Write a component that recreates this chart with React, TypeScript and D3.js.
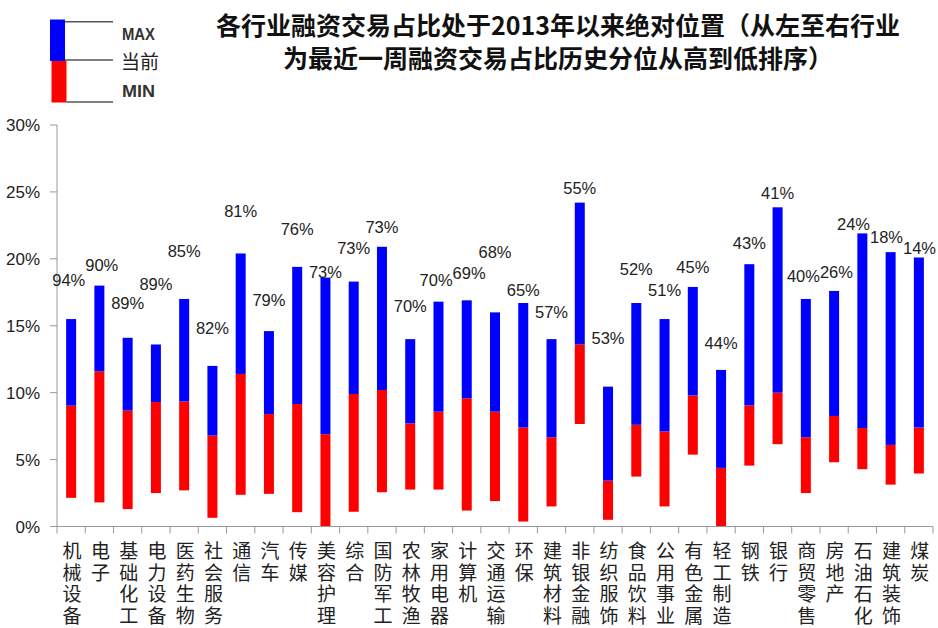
import React from "react";
import * as d3 from "d3";

const categories = ["机械设备","电子","基础化工","电力设备","医药生物","社会服务","通信","汽车","传媒","美容护理","综合","国防军工","农林牧渔","家用电器","计算机","交通运输","环保","建筑材料","非银金融","纺织服饰","食品饮料","公用事业","有色金属","轻工制造","钢铁","银行","商贸零售","房地产","石油石化","建筑装饰","煤炭"];
const maxVals = [15.5,18.0,14.1,13.6,17.0,12.0,20.4,14.6,19.4,18.6,18.3,20.9,14.0,16.8,16.9,16.0,16.7,14.0,24.2,10.45,16.7,15.5,17.9,11.7,19.6,23.85,17.0,17.6,21.9,20.5,20.1];
const curVals = [9.03,11.6,8.66,9.3,9.35,6.8,11.4,8.4,9.15,6.9,9.9,10.2,7.7,8.58,9.58,8.58,7.4,6.67,13.6,3.43,7.6,7.1,9.8,4.38,9.05,10.0,6.67,8.26,7.36,6.1,7.4];
const minVals = [2.14,1.8,1.3,2.5,2.7,0.65,2.37,2.44,1.07,0.0,1.1,2.56,2.76,2.76,1.19,1.9,0.37,1.5,7.66,0.5,3.73,1.5,5.37,0.0,4.55,6.15,2.5,4.8,4.28,3.13,3.96];
const pctLabels = ["94%","90%","89%","89%","85%","82%","81%","79%","76%","73%","73%","73%","70%","70%","69%","68%","65%","57%","55%","53%","52%","51%","45%","44%","43%","41%","40%","26%","24%","18%","14%"];
const labelLevels = [18.4,19.5,16.7,18.1,20.6,14.8,23.6,16.9,22.2,19.0,20.8,22.4,16.5,18.4,18.9,20.5,17.7,16.0,25.3,14.05,19.2,17.7,19.35,13.7,21.2,24.9,18.7,19.0,22.6,21.6,20.8];
const yTicks = [0,5,10,15,20,25,30];
const titleLines = ["各行业融资交易占比处于2013年以来绝对位置（从左至右行业","为最近一周融资交易占比历史分位从高到低排序）"];
const legendItems = ["MAX","当前","MIN"];

const W = 938, H = 628;
const left = 57, right = 933, top = 125, bottom = 526.5;
const BLUE = "#0000FF", RED = "#FF0000";
const latin = "'Liberation Sans', Arial, sans-serif";
const cjk = "'Noto Sans CJK SC', 'Noto Sans', sans-serif";
const mixed = "'Liberation Sans', 'Noto Sans CJK SC', sans-serif";
const labelFont = 16.5;

export default function App() {
  const x = d3.scaleBand<string>().domain(categories).range([left, right]).padding(0);
  const y = d3.scaleLinear().domain([0, 30]).range([bottom, top]);
  const bw = 10;
  const step = x.step();
  const boundaries = d3.range(categories.length + 1).map(i => left + i * step);

  // label placement: centred on bars, nudged apart when neighbours collide, kept inside the frame
  const lw = labelFont * 2.0;
  const n = categories.length;
  const lx = categories.map(c => (x(c) as number) + step / 2);
  const ly = labelLevels.map(v => y(v));
  const close = (i: number) => Math.abs(ly[i] - ly[i + 1]) < labelFont * 0.9;
  for (let iter = 0; iter < 5; iter++) {
    for (let i = 0; i < n - 1; i++) {
      if (close(i)) {
        const ov = lx[i] + lw - lx[i + 1];
        if (ov > 0) { lx[i] -= ov / 2; lx[i + 1] += ov / 2; }
      }
    }
  }
  const maxX = W - lw / 2 - 2;
  if (lx[n - 1] > maxX) lx[n - 1] = maxX;
  for (let i = n - 2; i >= 0; i--) {
    if (close(i)) {
      const ov = lx[i] + lw - lx[i + 1];
      if (ov > 0) lx[i] -= ov;
    }
  }

  return (
    <div style={{ position: "absolute", left: 0, top: 0 }}>
      <svg width={W} height={H} style={{ display: "block", background: "#fff" }}>
        {/* title */}
        {titleLines.map((t, i) => (
          <text key={i} x={558} y={35 + i * 33} textAnchor="middle" fontFamily={cjk} fontWeight="bold" fontSize={25} fill="#111">{t}</text>
        ))}
        {/* legend */}
        <rect x={50} y={19.5} width={15} height={41.5} fill={BLUE} />
        <rect x={51.5} y={61} width={15} height={41.5} fill={RED} />
        <line x1={65} x2={113} y1={21.7} y2={21.7} stroke="#555" strokeWidth={1.5} />
        <line x1={65} x2={113} y1={60} y2={60} stroke="#555" strokeWidth={1.5} />
        <line x1={66.5} x2={113} y1={102} y2={102} stroke="#555" strokeWidth={1.5} />
        {legendItems.map((t, i) => (
          i === 1 ? (
            <text key={t} x={121} y={62} dy="0.36em" fontFamily={cjk} fontSize={19} fill="#222">{t}</text>
          ) : (
            <text key={t} x={122} y={[34, 61, 91][i]} dy="0.36em" fontFamily={latin} fontSize={17} fontWeight="bold" textLength={33} lengthAdjust="spacingAndGlyphs" fill="#333">{t}</text>
          )
        ))}
        {/* y axis */}
        <line x1={left} x2={left} y1={top} y2={bottom} stroke="#999" strokeWidth={1} />
        {yTicks.map(t => (
          <g key={t}>
            <line x1={left - 7} x2={left} y1={y(t)} y2={y(t)} stroke="#999" />
            <text x={40} y={y(t)} dy="0.36em" textAnchor="end" fontFamily={latin} fontSize={17} fill="#222">{t}%</text>
          </g>
        ))}
        {/* bars */}
        {categories.map((c, i) => {
          const cx = (x(c) as number) + step / 2;
          return (
            <g key={c}>
              <rect x={cx - bw / 2} y={y(curVals[i])} width={bw} height={y(minVals[i]) - y(curVals[i])} fill={RED} />
              <rect x={cx - bw / 2} y={y(maxVals[i])} width={bw} height={y(curVals[i]) - y(maxVals[i])} fill={BLUE} />
            </g>
          );
        })}
        {/* x axis */}
        <line x1={left} x2={right} y1={bottom} y2={bottom} stroke="#999" />
        {boundaries.map((bx, i) => (
          <line key={i} x1={bx} x2={bx} y1={bottom} y2={bottom + 7} stroke="#999" />
        ))}
        {categories.map((c) => {
          const cx = (x(c) as number) + step / 2;
          return (
            <text key={c} x={cx + 1} fontFamily={mixed} fontSize={19} textAnchor="middle" fill="#222">
              {Array.from(c).map((ch, j) => (
                <tspan key={j} x={cx + 1} y={558 + j * 21.7}>{ch}</tspan>
              ))}
            </text>
          );
        })}
        {/* percentile labels */}
        {categories.map((c, i) => (
          <text key={c} x={lx[i]} y={ly[i]} dy="0.36em" textAnchor="middle" fontFamily={latin} fontSize={labelFont} fill="#222">{pctLabels[i]}</text>
        ))}
      </svg>
    </div>
  );
}
